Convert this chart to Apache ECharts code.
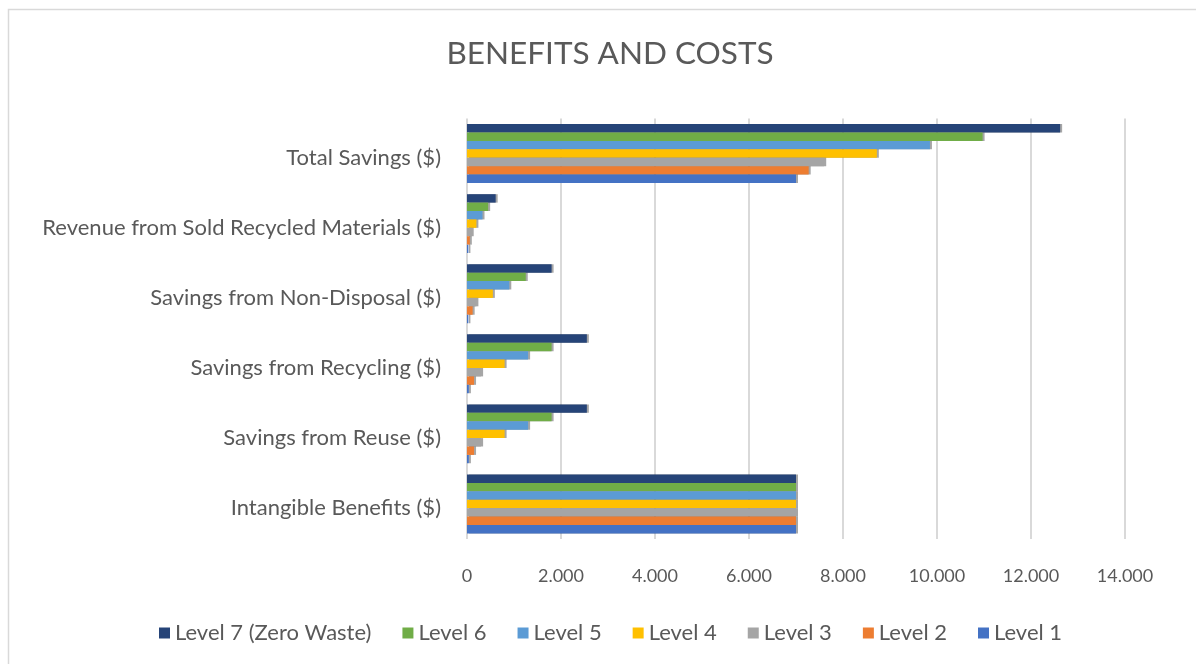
<!DOCTYPE html>
<html>
<head>
<meta charset="utf-8">
<script src="https://cdn.jsdelivr.net/npm/echarts@6/dist/echarts.min.js"></script>
<style>html,body{margin:0;padding:0;background:#fff;}#c{width:1196px;height:664px;}</style>
</head>
<body>
<div id="c"></div>
<script>
const categories = [
  'Intangible Benefits ($)',
  'Savings from Reuse ($)',
  'Savings from Recycling ($)',
  'Savings from Non-Disposal ($)',
  'Revenue from Sold Recycled Materials ($)',
  'Total Savings ($)'
];
const seriesNames = ['Level 7 (Zero Waste)','Level 6','Level 5','Level 4','Level 3','Level 2','Level 1'];
const level7 = [7000, 2550, 2550, 1800, 610, 12620];
const level6 = [7000, 1800, 1800, 1250, 450, 10970];
const level5 = [7000, 1300, 1300, 900, 330, 9850];
const level4 = [7000, 800, 800, 550, 200, 8720];
const level3 = [7000, 300, 300, 200, 100, 7600];
const level2 = [7000, 150, 150, 120, 60, 7270];
const level1 = [7000, 40, 40, 30, 30, 7000];
const xTicks = [0, 2000, 4000, 6000, 8000, 10000, 12000, 14000];
const colors = ['#264478','#70AD47','#5B9BD5','#FFC000','#A5A5A5','#ED7D31','#4472C4'];
const allData = [level7, level6, level5, level4, level3, level2, level1];

const chart = echarts.init(document.getElementById('c'));
const font = 'Lato, "Open Sans", sans-serif';
chart.setOption({
  animation: false,
  textStyle: { fontFamily: font },
  graphic: [{
    type: 'rect', shape: { x: 8.5, y: 9.5, width: 1300, height: 800 },
    style: { fill: 'none', stroke: '#d9d9d9', lineWidth: 1.5 }, silent: true
  }],
  title: {
    text: 'BENEFITS AND COSTS', left: 605, top: 33, textAlign: 'center',
    textStyle: { fontFamily: font, fontSize: 31.5, fontWeight: 'normal', color: '#595959' }
  },
  legend: {
    data: seriesNames,
    left: 154, top: 617, itemWidth: 11, itemHeight: 11, itemGap: 31,
    icon: 'rect',
    textStyle: { fontFamily: font, fontSize: 22, color: '#595959' }
  },
  grid: { left: 467, right: 71, top: 118.5, bottom: 125, containLabel: false },
  xAxis: {
    type: 'value', min: xTicks[0], max: xTicks[xTicks.length - 1], interval: 2000,
    axisLine: { show: false }, axisTick: { show: false },
    splitLine: { lineStyle: { color: '#d9d9d9', width: 2 } },
    axisLabel: {
      margin: 28, fontSize: 18, color: '#595959', fontFamily: font,
      formatter: v => v === 0 ? '0' : String(v).replace(/\B(?=(\d{3})+(?!\d))/g, '.')
    }
  },
  yAxis: {
    type: 'category', data: categories,
    axisLine: { show: false }, axisTick: { show: false },
    axisLabel: { margin: 26, fontSize: 22, color: '#595959', fontFamily: font, verticalAlign: 'top', lineHeight: 8 }
  },
  series: seriesNames.map((n, i) => ({
    name: n, type: 'bar', data: allData[i],
    barGap: '0%', barCategoryGap: '16%',
    itemStyle: {
      color: colors[i],
      shadowColor: 'rgba(0,0,0,0.35)', shadowOffsetX: 2, shadowOffsetY: 0, shadowBlur: 0
    }
  }))
});
</script>
</body>
</html>
